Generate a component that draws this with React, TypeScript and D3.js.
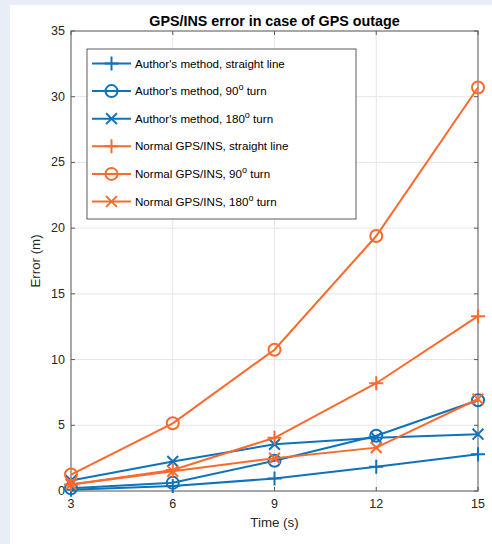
import { useEffect, useRef } from "react";
import * as d3 from "d3";

const times = [3, 6, 9, 12, 15];
const authorStraight = [0.1, 0.38, 0.95, 1.85, 2.8];
const author90 = [0.2, 0.62, 2.3, 4.2, 6.9];
const author180 = [0.8, 2.25, 3.55, 4.05, 4.32];
const normalStraight = [0.5, 1.6, 4.05, 8.2, 13.3];
const normal90 = [1.25, 5.15, 10.75, 19.4, 30.7];
const normal180 = [0.5, 1.5, 2.5, 3.3, 7.0];

const seriesNames = [
  "Author's method, straight line",
  "Author's method, 90",
  "Author's method, 180",
  "Normal GPS/INS, straight line",
  "Normal GPS/INS, 90",
  "Normal GPS/INS, 180",
];
const seriesValues = [authorStraight, author90, author180, normalStraight, normal90, normal180];
const seriesMarkers = ["plus", "circle", "cross", "plus", "circle", "cross"];
const seriesColors = ["#0f72bd", "#0f72bd", "#0f72bd", "#fb6a2c", "#fb6a2c", "#fb6a2c"];

const xTicks = [3, 6, 9, 12, 15];
const yTicks = [0, 5, 10, 15, 20, 25, 30, 35];

const App = () => {
  const ref = useRef<SVGSVGElement>(null);

  useEffect(() => {
    const width = 492;
    const height = 544;
    const left = 71;
    const right = 478;
    const top = 31;
    const bottom = 491;
    const font = "'Liberation Sans', Arial, sans-serif";

    const svg = d3.select(ref.current).attr("width", width).attr("height", height);
    svg.selectAll("*").remove();

    svg.append("rect").attr("width", width).attr("height", height).attr("fill", "#e9edf7");
    svg.append("rect").attr("x", 10).attr("y", 5).attr("width", width - 10).attr("height", height - 5).attr("fill", "#fff");

    const x = d3.scaleLinear().domain([3, 15]).range([left, right]);
    const y = d3.scaleLinear().domain([0, 35]).range([bottom, top]);

    // grid
    const grid = svg.append("g").attr("stroke", "#e6e6e6").attr("stroke-width", 1);
    xTicks.forEach((t) => {
      grid.append("line").attr("x1", x(t)).attr("x2", x(t)).attr("y1", top).attr("y2", bottom);
    });
    yTicks.forEach((t) => {
      grid.append("line").attr("x1", left).attr("x2", right).attr("y1", y(t)).attr("y2", y(t));
    });

    // axes box + inner ticks
    const axisColor = "#5c5c5c";
    svg.append("rect").attr("x", left).attr("y", top).attr("width", right - left).attr("height", bottom - top)
      .attr("fill", "none").attr("stroke", axisColor).attr("stroke-width", 1);
    const ticks = svg.append("g").attr("stroke", axisColor).attr("stroke-width", 1);
    const tl = 4;
    xTicks.forEach((t) => {
      ticks.append("line").attr("x1", x(t)).attr("x2", x(t)).attr("y1", bottom).attr("y2", bottom - tl);
      ticks.append("line").attr("x1", x(t)).attr("x2", x(t)).attr("y1", top).attr("y2", top + tl);
    });
    yTicks.forEach((t) => {
      ticks.append("line").attr("x1", left).attr("x2", left + tl).attr("y1", y(t)).attr("y2", y(t));
      ticks.append("line").attr("x1", right).attr("x2", right - tl).attr("y1", y(t)).attr("y2", y(t));
    });

    // tick labels
    const labels = svg.append("g").style("font-family", font).style("font-size", "12.5px").attr("fill", "#262626");
    xTicks.forEach((t) => {
      labels.append("text").attr("x", x(t)).attr("y", bottom + 17).attr("text-anchor", "middle").text(t);
    });
    yTicks.forEach((t) => {
      labels.append("text").attr("x", left - 6).attr("y", y(t) + 4).attr("text-anchor", "end").text(t);
    });

    svg.append("text").attr("x", (left + right) / 2).attr("y", bottom + 36).attr("text-anchor", "middle")
      .style("font-family", font).style("font-size", "13.3px").attr("fill", "#262626").text("Time (s)");
    svg.append("text").attr("transform", `translate(40, ${(top + bottom) / 2}) rotate(-90)`).attr("text-anchor", "middle")
      .style("font-family", font).style("font-size", "13.3px").attr("fill", "#262626").text("Error (m)");
    svg.append("text").attr("x", (left + right) / 2).attr("y", 26).attr("text-anchor", "middle")
      .style("font-family", font).style("font-size", "14.3px").style("font-weight", "700").attr("fill", "#000")
      .text("GPS/INS error in case of GPS outage");

    const drawMarker = (g: any, kind: string, cx: number, cy: number, color: string) => {
      const s = 6;
      if (kind === "circle") {
        g.append("circle").attr("cx", cx).attr("cy", cy).attr("r", s).attr("fill", "none").attr("stroke", color).attr("stroke-width", 2);
      } else if (kind === "plus") {
        g.append("path").attr("d", `M${cx - s - 1},${cy}H${cx + s + 1}M${cx},${cy - s - 1}V${cy + s + 1}`).attr("stroke", color).attr("stroke-width", 2).attr("fill", "none");
      } else {
        const k = s * 0.9;
        g.append("path").attr("d", `M${cx - k},${cy - k}L${cx + k},${cy + k}M${cx - k},${cy + k}L${cx + k},${cy - k}`).attr("stroke", color).attr("stroke-width", 2).attr("fill", "none");
      }
    };

    const line = d3.line<number>().x((d, i) => x(times[i])).y((d) => y(d));
    const plot = svg.append("g");
    seriesValues.forEach((vals, si) => {
      const color = seriesColors[si];
      plot.append("path").attr("d", line(vals)).attr("fill", "none").attr("stroke", color).attr("stroke-width", 2);
      vals.forEach((v, i) => drawMarker(plot, seriesMarkers[si], x(times[i]), y(v), color));
    });

    // legend
    const lg = svg.append("g");
    lg.append("rect").attr("x", 87).attr("y", 49).attr("width", 269).attr("height", 170)
      .attr("fill", "#fff").attr("stroke", "#333").attr("stroke-width", 0.8);
    seriesNames.forEach((name, i) => {
      const ry = 63.5 + i * 27.6;
      const color = seriesColors[i];
      lg.append("line").attr("x1", 92).attr("x2", 131).attr("y1", ry).attr("y2", ry).attr("stroke", color).attr("stroke-width", 2);
      drawMarker(lg, seriesMarkers[i], 111.5, ry, color);
      const t = lg.append("text").attr("x", 135).attr("y", ry + 4).style("font-family", font).style("font-size", "11.6px").attr("fill", "#000");
      if (name.endsWith("90") || name.endsWith("180")) {
        t.append("tspan").text(name);
        t.append("tspan").attr("dy", -5).style("font-size", "9px").text("o");
        t.append("tspan").attr("dy", 5).text(" turn");
      } else {
        t.text(name);
      }
    });
  }, []);

  return (
    <div style={{ position: "absolute", left: 0, top: 0 }}>
      <svg ref={ref}></svg>
    </div>
  );
};

export default App;
